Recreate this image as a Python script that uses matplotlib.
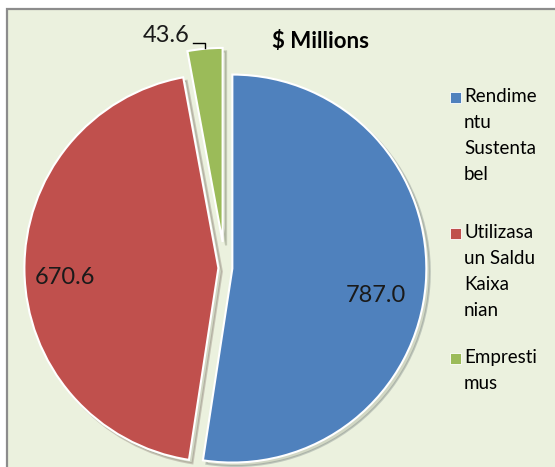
import numpy as np
import matplotlib.pyplot as plt
from matplotlib.patches import Rectangle, Shadow

# chart data
labels = ['Rendime\nntu\nSustenta\nbel', 'Utilizasa\nun Saldu\nKaixa\nnian', 'Empresti\nmus']
values = [787.0, 670.6, 43.6]
colors = ['#4F81BD', '#C0504D', '#9BBB59']
explode = [0.038, 0.034, 0.135]
title = '$ Millions'

W, H = 555, 467
plt.rcParams['font.family'] = ['Lato', 'DejaVu Sans']

fig = plt.figure(figsize=(W / 100, H / 100), dpi=100)
fig.patch.set_facecolor('white')
ax = fig.add_axes([0, 0, 1, 1])

def Y(y):
    # image rows run downward, axes upward
    return H - y

# chart area with grey frame (cut off at the right and bottom)
ax.add_patch(Rectangle((7, -10), 600, Y(9) + 10, facecolor='#EBF1DE',
                       edgecolor='#8C8C8C', lw=1.6, zorder=0))

radius = 194
# pie() offsets wedges in data units, so scale the fractions by the radius
wedges, _ = ax.pie(values, explode=[e * radius for e in explode],
                   colors=colors, startangle=90, counterclock=False,
                   radius=radius, center=(225, Y(268)),
                   wedgeprops=dict(edgecolor='white', linewidth=1.5),
                   frame=True)
ax.set_xlim(0, W)
ax.set_ylim(0, H)
ax.set_aspect('equal')
ax.axis('off')

# soft shadow under the slices
for w in wedges:
    s = Shadow(w, 2.5, -2.5, alpha=0.2)
    s.set_facecolor('#6b7060')
    s.set_zorder(w.get_zorder() - 0.5)
    ax.add_patch(s)

# value labels inside the two big slices
lab_dist = [0.754, 0.79]
lab_shift = [-6.3, 2.8]
for i in range(2):
    w = wedges[i]
    mid = np.deg2rad((w.theta1 + w.theta2) / 2 + lab_shift[i])
    cx, cy = w.center
    ax.text(cx + lab_dist[i] * radius * np.cos(mid),
            cy + lab_dist[i] * radius * np.sin(mid),
            '%.1f' % values[i], ha='center', va='center',
            fontsize=17, color='#1a1a1a')

# small slice: label outside with a leader line
g = wedges[2]
gx, gy = g.center
gmid = np.deg2rad((g.theta1 + g.theta2) / 2)
tx = gx + radius * np.cos(gmid)
ty = gy + radius * np.sin(gmid)
ax.plot([tx, tx, tx - 12], [ty + 1, ty + 6, ty + 6], color='black', lw=1)
ax.text(tx - 15, ty + 13, '%.1f' % values[2], ha='right', va='center',
        fontsize=17, color='#1a1a1a')

ax.text(321, Y(42), title, ha='center', va='center', fontsize=16,
        fontweight='bold', color='black')

# legend drawn by hand so the marker sits on the first line
entry_top = [97, 233, 358]
line_h = 25.7
for lab, col, y0 in zip(labels, colors, entry_top):
    ax.add_patch(Rectangle((450, Y(y0) - 5.5), 11, 11, facecolor=col,
                           edgecolor='white', lw=0.6, zorder=3))
    for k, line in enumerate(lab.split('\n')):
        ax.text(464, Y(y0 + k * line_h), line, ha='left', va='center',
                fontsize=13.5, color='black')

fig.savefig('out.png', dpi=100, facecolor=fig.get_facecolor())
